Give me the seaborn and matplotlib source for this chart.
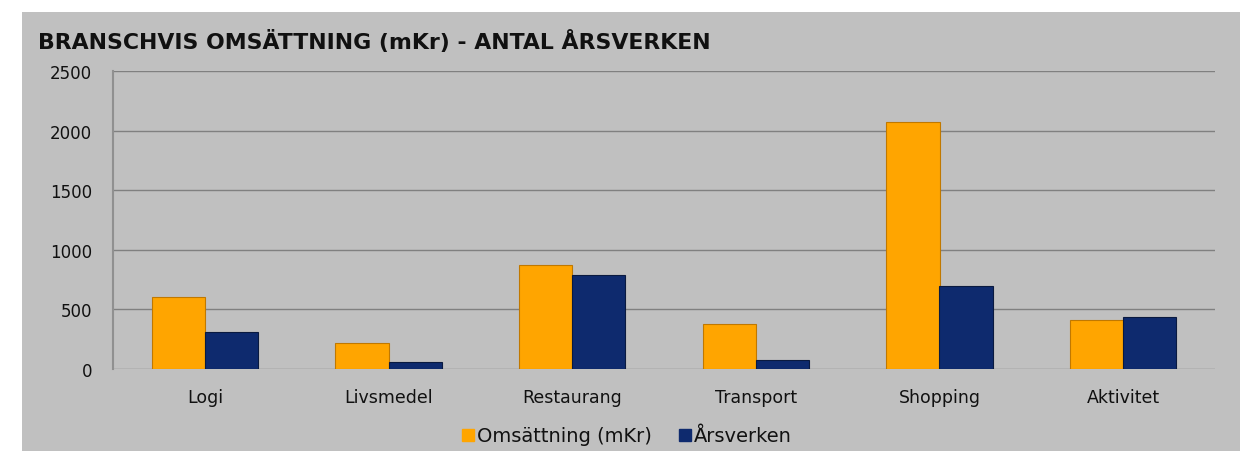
import matplotlib
matplotlib.use("Agg")
import matplotlib.pyplot as plt
import seaborn as sns
import pandas as pd
from matplotlib.patches import Rectangle
from matplotlib.lines import Line2D

categories = ["Logi", "Livsmedel", "Restaurang", "Transport", "Shopping", "Aktivitet"]
omsattning = [606, 218, 875, 380, 2069, 408]
arsverken = [313, 59, 791, 78, 693, 433]
series_names = ["Omsättning (mKr)", "Årsverken"]
yticks = [0, 500, 1000, 1500, 2000, 2500]

df = pd.DataFrame({
    "Bransch": categories * 2,
    "Värde": omsattning + arsverken,
    "Serie": [series_names[0]] * len(categories) + [series_names[1]] * len(categories),
})

sns.set_theme(style="white")
plt.rcParams['font.family'] = ['DejaVu Sans']

orange = "#FFA500"
navy = "#0E2A6E"
bg = "#C0C0C0"

fig = plt.figure(figsize=(12.52, 4.56), dpi=100)
fig.patch.set_facecolor("white")
fig.patches.append(Rectangle((22/1252, 1-452/456), (1240-22)/1252, (452-13)/456,
                             transform=fig.transFigure, facecolor=bg, edgecolor="none", zorder=-10))

ax = fig.add_axes([113/1252, 1-370/456, (1215-113)/1252, (370-72)/456])
ax.set_facecolor(bg)
ax.patch.set_alpha(0)

sns.barplot(data=df, x="Bransch", y="Värde", hue="Serie", palette=[orange, navy],
            saturation=1, width=0.58, ax=ax, legend=False,
            edgecolor="#C07800", linewidth=0.8, zorder=3)
for p in ax.patches[len(categories):]:
    p.set_edgecolor("#0a1a40")

ax.set_ylim(0, 2500)
ax.set_xlim(-0.5, len(categories) - 0.5)
ax.set_yticks(yticks)
ax.set_yticklabels([str(t) for t in yticks], fontsize=12, color="#111111")
ax.tick_params(axis="x", labelsize=12.5, colors="#111111", length=0, pad=14)
ax.tick_params(axis="y", length=0, pad=15)
ax.yaxis.grid(True, color="#808080", linewidth=1)
ax.set_axisbelow(True)
ax.set_xlabel("")
ax.set_ylabel("")
for s in ["top", "right", "bottom"]:
    ax.spines[s].set_visible(False)
ax.spines["left"].set_color("#909090")
ax.spines["left"].set_linewidth(1.5)

fig.text(38/1252, 1-42/456, "BRANSCHVIS OMSÄTTNING (mKr) - ANTAL ÅRSVERKEN",
         fontsize=15.8, fontweight="bold", color="#111111", va="center", ha="left")

handles = [Line2D([0], [0], marker="s", linestyle="none", markersize=8,
                  markerfacecolor=c, markeredgecolor=c) for c in [orange, navy]]
leg = fig.legend(handles, series_names, loc="center", bbox_to_anchor=(0.5, 1-437/456), ncol=2,
                 frameon=False, fontsize=14, handletextpad=0.05, columnspacing=1.3, handlelength=0.8)
for t in leg.get_texts():
    t.set_color("#111111")

fig.savefig("out.png", dpi=100, facecolor="white")
